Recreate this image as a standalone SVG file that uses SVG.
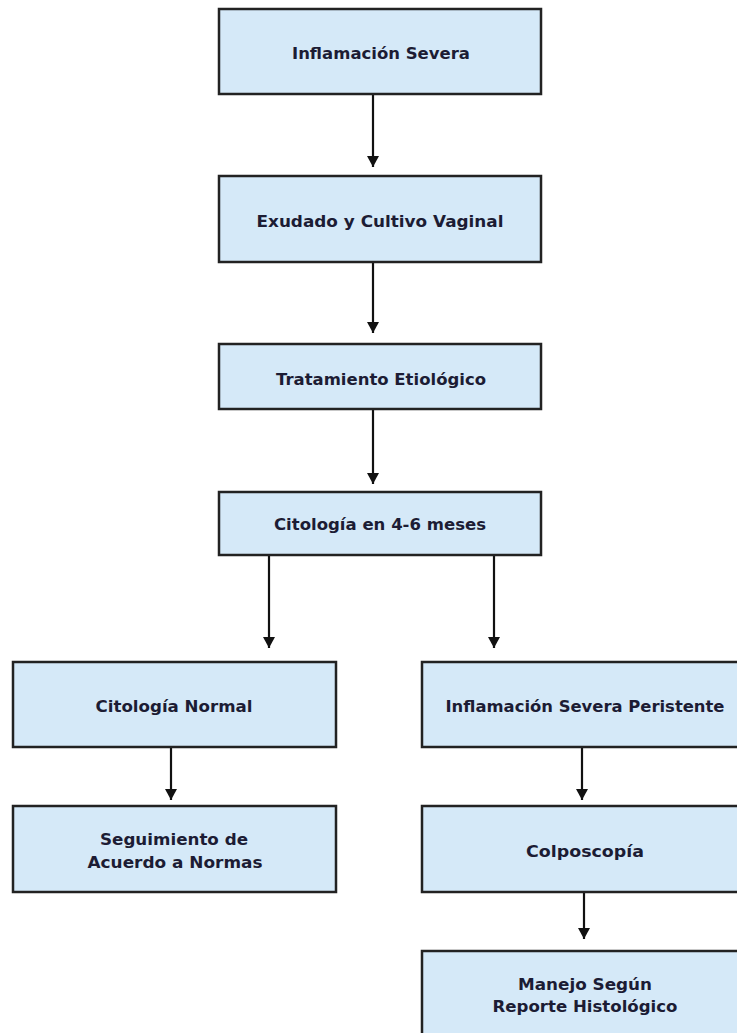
<svg xmlns="http://www.w3.org/2000/svg" width="737" height="1033" viewBox="0 0 737 1033">
  <style>
    .box { fill: #d5e9f8; stroke: #222222; stroke-width: 2.5; }
    .lbl { font-family: "DejaVu Sans", "Liberation Sans", sans-serif; font-weight: bold; font-size: 15px; fill: #1c1c34; text-anchor: middle; dominant-baseline: central; }
    .conn { stroke: #111111; stroke-width: 2.2; fill: none; marker-end: url(#arr); }
  </style>
  <defs>
    <marker id="arr" markerUnits="userSpaceOnUse" markerWidth="12" markerHeight="12" refX="11" refY="6" orient="auto">
      <path d="M0,0 L11,6 L0,12 z" fill="#111111"/>
    </marker>
  </defs>
  <rect width="737" height="1033" fill="#ffffff"/>

  <g id="connectors">
    <line class="conn" x1="373" y1="94" x2="373" y2="167"/>
    <line class="conn" x1="373" y1="262" x2="373" y2="333"/>
    <line class="conn" x1="373" y1="409" x2="373" y2="484"/>
    <line class="conn" x1="269" y1="555" x2="269" y2="648"/>
    <line class="conn" x1="494" y1="555" x2="494" y2="648"/>
    <line class="conn" x1="171" y1="747" x2="171" y2="800"/>
    <line class="conn" x1="582" y1="747" x2="582" y2="800"/>
    <line class="conn" x1="584" y1="892" x2="584" y2="939"/>
  </g>

  <g id="n1">
    <rect class="box" x="219" y="9" width="322" height="85"/>
    <text class="lbl" x="381" y="54" textLength="178" lengthAdjust="spacingAndGlyphs">Inflamación Severa</text>
  </g>
  <g id="n2">
    <rect class="box" x="219" y="176" width="322" height="86"/>
    <text class="lbl" x="380" y="222" textLength="247" lengthAdjust="spacingAndGlyphs">Exudado y Cultivo Vaginal</text>
  </g>
  <g id="n3">
    <rect class="box" x="219" y="344" width="322" height="65"/>
    <text class="lbl" x="381" y="380" textLength="210" lengthAdjust="spacingAndGlyphs">Tratamiento Etiológico</text>
  </g>
  <g id="n4">
    <rect class="box" x="219" y="492" width="322" height="63"/>
    <text class="lbl" x="380" y="525" textLength="212" lengthAdjust="spacingAndGlyphs">Citología en 4-6 meses</text>
  </g>
  <g id="n5">
    <rect class="box" x="13" y="662" width="323" height="85"/>
    <text class="lbl" x="174" y="707" textLength="157" lengthAdjust="spacingAndGlyphs">Citología Normal</text>
  </g>
  <g id="n6">
    <rect class="box" x="422" y="662" width="324" height="85"/>
    <text class="lbl" x="585" y="707" textLength="279" lengthAdjust="spacingAndGlyphs">Inflamación Severa Peristente</text>
  </g>
  <g id="n7">
    <rect class="box" x="13" y="806" width="323" height="86"/>
    <text class="lbl" x="174" y="840" textLength="148" lengthAdjust="spacingAndGlyphs">Seguimiento de</text>
    <text class="lbl" x="175" y="863" textLength="175" lengthAdjust="spacingAndGlyphs">Acuerdo a Normas</text>
  </g>
  <g id="n8">
    <rect class="box" x="422" y="806" width="324" height="86"/>
    <text class="lbl" x="585" y="852" textLength="118" lengthAdjust="spacingAndGlyphs">Colposcopía</text>
  </g>
  <g id="n9">
    <rect class="box" x="422" y="951" width="324" height="100"/>
    <text class="lbl" x="585" y="985" textLength="134" lengthAdjust="spacingAndGlyphs">Manejo Según</text>
    <text class="lbl" x="585" y="1007" textLength="185" lengthAdjust="spacingAndGlyphs">Reporte Histológico</text>
  </g>
</svg>
